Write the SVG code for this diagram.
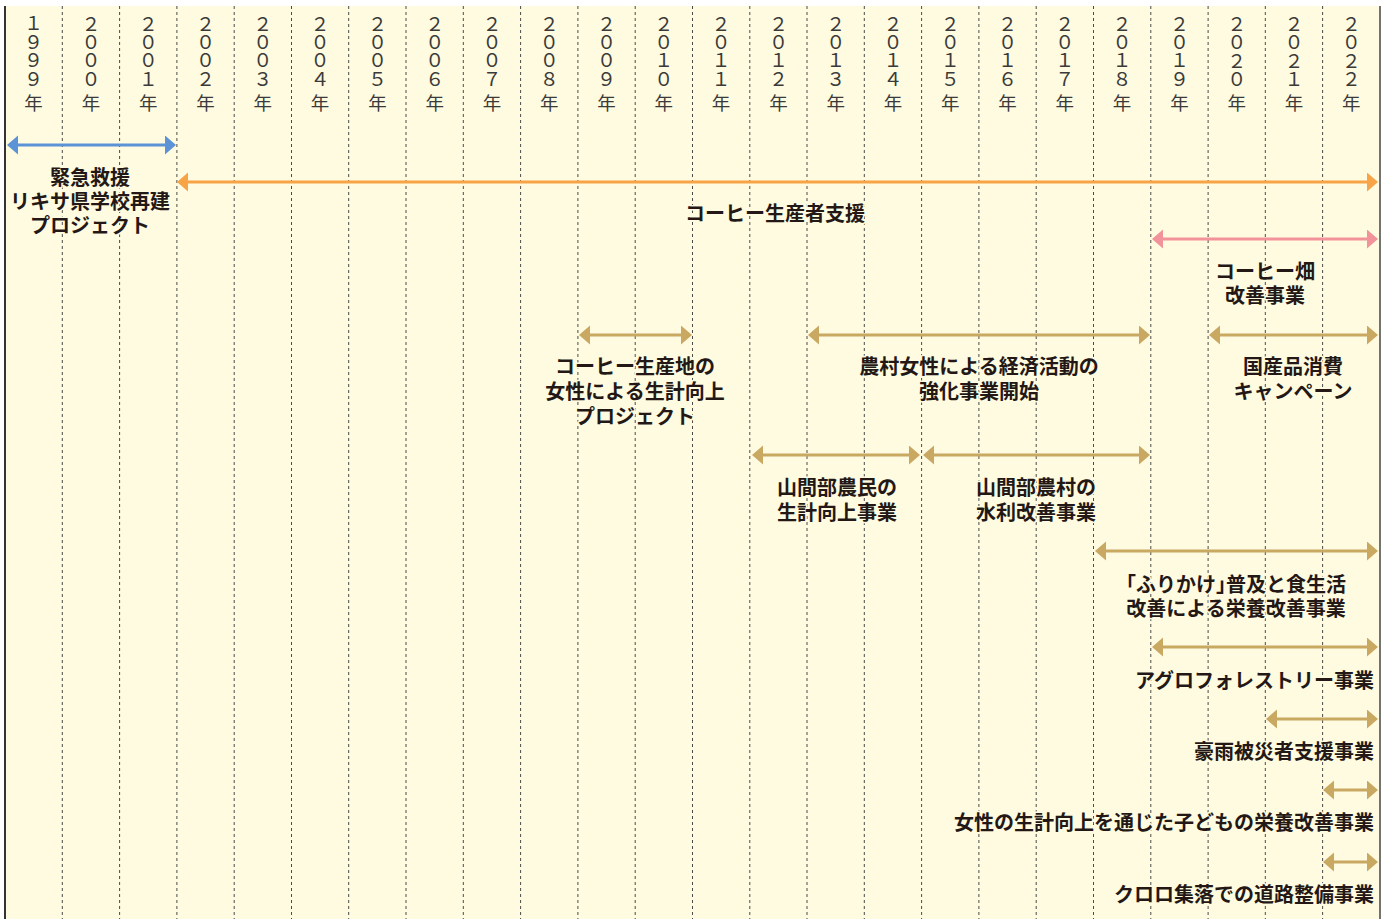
<svg xmlns="http://www.w3.org/2000/svg" width="1388" height="919" viewBox="0 0 1388 919">
<style>
.yr{font-family:"Noto Sans CJK JP","Noto Sans",sans-serif;font-size:19px;font-weight:400;fill:#3a3a3a;writing-mode:vertical-rl;text-orientation:upright;letter-spacing:-0.5px}
.nen{font-family:"Noto Sans CJK JP",sans-serif;font-size:18.5px;font-weight:400;fill:#3a3a3a;text-anchor:middle}
.grid line{stroke:#4a4a4a;stroke-width:1;stroke-dasharray:3 3}
.lb{font-family:"Noto Sans CJK JP",sans-serif;font-size:20px;font-weight:700;fill:#231815;stroke:#fffbe0;stroke-width:3;paint-order:stroke;stroke-linejoin:round}
.m{text-anchor:middle}
.e{text-anchor:end}
.h{font-feature-settings:"halt"}
.a{stroke-width:3;fill:none}
.blue{stroke:#5b93d6;marker-start:url(#hb);marker-end:url(#hb)}
.orng{stroke:#f7a447;marker-end:url(#ho)}
.pink{stroke:#f2929a;marker-start:url(#hp);marker-end:url(#hp)}
.tan{stroke:#c9a862;marker-start:url(#ht);marker-end:url(#ht)}
</style>
<defs>
<marker id="hb" markerUnits="userSpaceOnUse" markerWidth="12" markerHeight="20" refX="1" refY="9.5" orient="auto-start-reverse" viewBox="0 0 12 20"><path d="M0,0 L11,9.5 L0,19 z" fill="#5b93d6"/></marker>
<marker id="ho" markerUnits="userSpaceOnUse" markerWidth="12" markerHeight="20" refX="1" refY="9.5" orient="auto-start-reverse" viewBox="0 0 12 20"><path d="M0,0 L11,9.5 L0,19 z" fill="#f7a447"/></marker>
<marker id="hp" markerUnits="userSpaceOnUse" markerWidth="12" markerHeight="20" refX="1" refY="9.5" orient="auto-start-reverse" viewBox="0 0 12 20"><path d="M0,0 L11,9.5 L0,19 z" fill="#f2929a"/></marker>
<marker id="ht" markerUnits="userSpaceOnUse" markerWidth="12" markerHeight="20" refX="1" refY="9.5" orient="auto-start-reverse" viewBox="0 0 12 20"><path d="M0,0 L11,9.5 L0,19 z" fill="#c9a862"/></marker>
</defs>
<rect x="0" y="0" width="1388" height="919" fill="#ffffff"/>
<rect x="5" y="6" width="1375" height="913" fill="#fffbe0"/>
<g class="grid">
<line x1="62.3" y1="6" x2="62.3" y2="919"/><line x1="119.6" y1="6" x2="119.6" y2="919"/><line x1="176.9" y1="6" x2="176.9" y2="919"/><line x1="234.2" y1="6" x2="234.2" y2="919"/><line x1="291.5" y1="6" x2="291.5" y2="919"/><line x1="348.7" y1="6" x2="348.7" y2="919"/><line x1="406" y1="6" x2="406" y2="919"/><line x1="463.3" y1="6" x2="463.3" y2="919"/><line x1="520.6" y1="6" x2="520.6" y2="919"/><line x1="577.9" y1="6" x2="577.9" y2="919"/><line x1="635.2" y1="6" x2="635.2" y2="919"/><line x1="692.5" y1="6" x2="692.5" y2="919"/><line x1="749.8" y1="6" x2="749.8" y2="919"/><line x1="807" y1="6" x2="807" y2="919"/><line x1="864.3" y1="6" x2="864.3" y2="919"/><line x1="921.6" y1="6" x2="921.6" y2="919"/><line x1="978.9" y1="6" x2="978.9" y2="919"/><line x1="1036.2" y1="6" x2="1036.2" y2="919"/><line x1="1093.5" y1="6" x2="1093.5" y2="919"/><line x1="1150.8" y1="6" x2="1150.8" y2="919"/><line x1="1208.1" y1="6" x2="1208.1" y2="919"/><line x1="1265.3" y1="6" x2="1265.3" y2="919"/><line x1="1322.6" y1="6" x2="1322.6" y2="919"/>
</g>
<line x1="5" y1="6" x2="5" y2="919" stroke="#333" stroke-width="2"/>
<line x1="1380" y1="6" x2="1380" y2="919" stroke="#444" stroke-width="1.5"/>
<g id="years">
<text class="yr" x="33.6" y="14">１９９９</text><text class="nen" x="33.6" y="110">年</text>
<text class="yr" x="90.9" y="14">２０００</text><text class="nen" x="90.9" y="110">年</text>
<text class="yr" x="148.2" y="14">２００１</text><text class="nen" x="148.2" y="110">年</text>
<text class="yr" x="205.5" y="14">２００２</text><text class="nen" x="205.5" y="110">年</text>
<text class="yr" x="262.8" y="14">２００３</text><text class="nen" x="262.8" y="110">年</text>
<text class="yr" x="320.1" y="14">２００４</text><text class="nen" x="320.1" y="110">年</text>
<text class="yr" x="377.4" y="14">２００５</text><text class="nen" x="377.4" y="110">年</text>
<text class="yr" x="434.7" y="14">２００６</text><text class="nen" x="434.7" y="110">年</text>
<text class="yr" x="491.9" y="14">２００７</text><text class="nen" x="491.9" y="110">年</text>
<text class="yr" x="549.2" y="14">２００８</text><text class="nen" x="549.2" y="110">年</text>
<text class="yr" x="606.5" y="14">２００９</text><text class="nen" x="606.5" y="110">年</text>
<text class="yr" x="663.8" y="14">２０１０</text><text class="nen" x="663.8" y="110">年</text>
<text class="yr" x="721.1" y="14">２０１１</text><text class="nen" x="721.1" y="110">年</text>
<text class="yr" x="778.4" y="14">２０１２</text><text class="nen" x="778.4" y="110">年</text>
<text class="yr" x="835.7" y="14">２０１３</text><text class="nen" x="835.7" y="110">年</text>
<text class="yr" x="893" y="14">２０１４</text><text class="nen" x="893" y="110">年</text>
<text class="yr" x="950.2" y="14">２０１５</text><text class="nen" x="950.2" y="110">年</text>
<text class="yr" x="1007.5" y="14">２０１６</text><text class="nen" x="1007.5" y="110">年</text>
<text class="yr" x="1064.8" y="14">２０１７</text><text class="nen" x="1064.8" y="110">年</text>
<text class="yr" x="1122.1" y="14">２０１８</text><text class="nen" x="1122.1" y="110">年</text>
<text class="yr" x="1179.4" y="14">２０１９</text><text class="nen" x="1179.4" y="110">年</text>
<text class="yr" x="1236.7" y="14">２０２０</text><text class="nen" x="1236.7" y="110">年</text>
<text class="yr" x="1294" y="14">２０２１</text><text class="nen" x="1294" y="110">年</text>
<text class="yr" x="1351.3" y="14">２０２２</text><text class="nen" x="1351.3" y="110">年</text>
</g>
<g id="connectors">
<line class="a blue" x1="17" y1="145" x2="166" y2="145"/>
<line class="a orng" x1="188" y1="182" x2="1368" y2="182"/>
<line class="a pink" x1="1162" y1="239" x2="1368" y2="239"/>
<line class="a tan" x1="589" y1="335" x2="682" y2="335"/>
<line class="a tan" x1="818" y1="335" x2="1140" y2="335"/>
<line class="a tan" x1="1219" y1="335" x2="1368" y2="335"/>
<line class="a tan" x1="762" y1="455" x2="910" y2="455"/>
<line class="a tan" x1="933" y1="455" x2="1140" y2="455"/>
<line class="a tan" x1="1105" y1="551" x2="1368" y2="551"/>
<line class="a tan" x1="1162" y1="647" x2="1368" y2="647"/>
<line class="a tan" x1="1276" y1="719" x2="1368" y2="719"/>
<line class="a tan" x1="1333" y1="790" x2="1368" y2="790"/>
<line class="a tan" x1="1333" y1="862" x2="1368" y2="862"/>
<path d="M188,172.5 L177,182 L188,191.5 z" fill="#f7a447"/>
</g>
<g id="n-kinkyu"><text class="lb m" x="90" y="185">緊急救援</text><text class="lb m" x="90" y="209">リキサ県学校再建</text><text class="lb m" x="90" y="233">プロジェクト</text></g>
<g id="n-coffee"><text class="lb m" x="775" y="221">コーヒー生産者支援</text></g>
<g id="n-hatake"><text class="lb m" x="1265" y="279">コーヒー畑</text><text class="lb m" x="1265" y="303">改善事業</text></g>
<g id="n-josei"><text class="lb m" x="635" y="374">コーヒー生産地の</text><text class="lb m" x="635" y="399">女性による生計向上</text><text class="lb m" x="635" y="424">プロジェクト</text></g>
<g id="n-noson"><text class="lb m" x="979" y="374">農村女性による経済活動の</text><text class="lb m" x="979" y="399">強化事業開始</text></g>
<g id="n-kokusan"><text class="lb m" x="1293" y="374">国産品消費</text><text class="lb m" x="1293" y="399">キャンペーン</text></g>
<g id="n-sankan1"><text class="lb m" x="837" y="495">山間部農民の</text><text class="lb m" x="837" y="520">生計向上事業</text></g>
<g id="n-sankan2"><text class="lb m" x="1036" y="495">山間部農村の</text><text class="lb m" x="1036" y="520">水利改善事業</text></g>
<g id="n-furikake"><text class="lb m" x="1236" y="592"><tspan class="h">「</tspan>ふりかけ<tspan class="h">」</tspan>普及と食生活</text><text class="lb m" x="1236" y="616">改善による栄養改善事業</text></g>
<g id="n-agro"><text class="lb e" x="1374" y="688">アグロフォレストリー事業</text></g>
<g id="n-gou"><text class="lb e" x="1374" y="759">豪雨被災者支援事業</text></g>
<g id="n-kodomo"><text class="lb e" x="1374" y="830">女性の生計向上を通じた子どもの栄養改善事業</text></g>
<g id="n-kuroro"><text class="lb e" x="1374" y="902">クロロ集落での道路整備事業</text></g>
</svg>
